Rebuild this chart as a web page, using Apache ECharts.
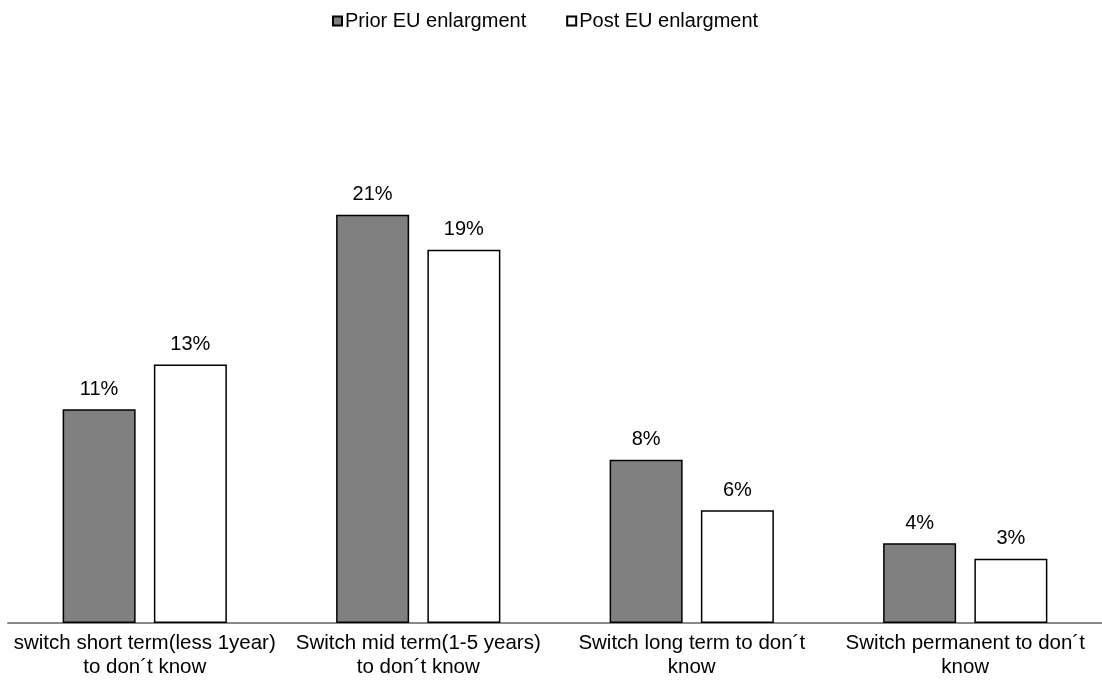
<!DOCTYPE html>
<html>
<head>
<meta charset="utf-8">
<script src="https://cdn.jsdelivr.net/npm/echarts@6/dist/echarts.min.js"></script>
<style>html,body{margin:0;padding:0;background:#fff}#c{width:1102px;height:685px}</style>
</head>
<body>
<div id="c"></div>
<script>
const categories = [
  "switch short term(less 1year)\nto don\u00b4t know",
  "Switch mid term(1-5 years)\nto don\u00b4t know",
  "Switch long term to don\u00b4t\nknow",
  "Switch permanent to don\u00b4t\nknow"
];
const seriesNames = ["Prior EU enlargment", "Post EU enlargment"];
const priorValues = [11.0, 21.0, 8.4, 4.1];
const postValues = [13.3, 19.2, 5.8, 3.3];

const font = "'Liberation Sans', Arial, sans-serif";
const chart = echarts.init(document.getElementById('c'), null, {renderer: 'canvas'});
const labelCfg = {
  show: true, position: 'top', distance: 10,
  color: '#000', fontSize: 20, fontFamily: font,
  formatter: p => Math.round(p.value) + '%'
};
chart.setOption({
  animation: false,
  backgroundColor: '#fff',
  legend: {
    top: 6, left: 327,
    itemWidth: 9, itemHeight: 9, itemGap: 40,
    icon: 'rect',
    textStyle: {fontSize: 20, fontFamily: font, color: '#000', padding: [0, 0, 0, -2]},
    data: seriesNames
  },
  grid: {left: 8, right: 0, top: 137, bottom: 62, containLabel: false},
  xAxis: {
    type: 'category', data: categories,
    axisLine: {lineStyle: {color: '#898989', width: 2}},
    axisTick: {show: false},
    axisLabel: {fontSize: 20.5, fontFamily: font, color: '#000', lineHeight: 24, margin: 8, interval: 0}
  },
  yAxis: {type: 'value', min: 0, max: 25, show: false, splitLine: {show: false}},
  series: [
    {name: seriesNames[0], type: 'bar', data: priorValues, barWidth: 73, barGap: '25%',
     itemStyle: {color: '#808080', borderColor: '#000', borderWidth: 1.5}, label: labelCfg},
    {name: seriesNames[1], type: 'bar', data: postValues, barWidth: 73,
     itemStyle: {color: '#fff', borderColor: '#000', borderWidth: 1.5}, label: labelCfg}
  ]
});
</script>
</body>
</html>
